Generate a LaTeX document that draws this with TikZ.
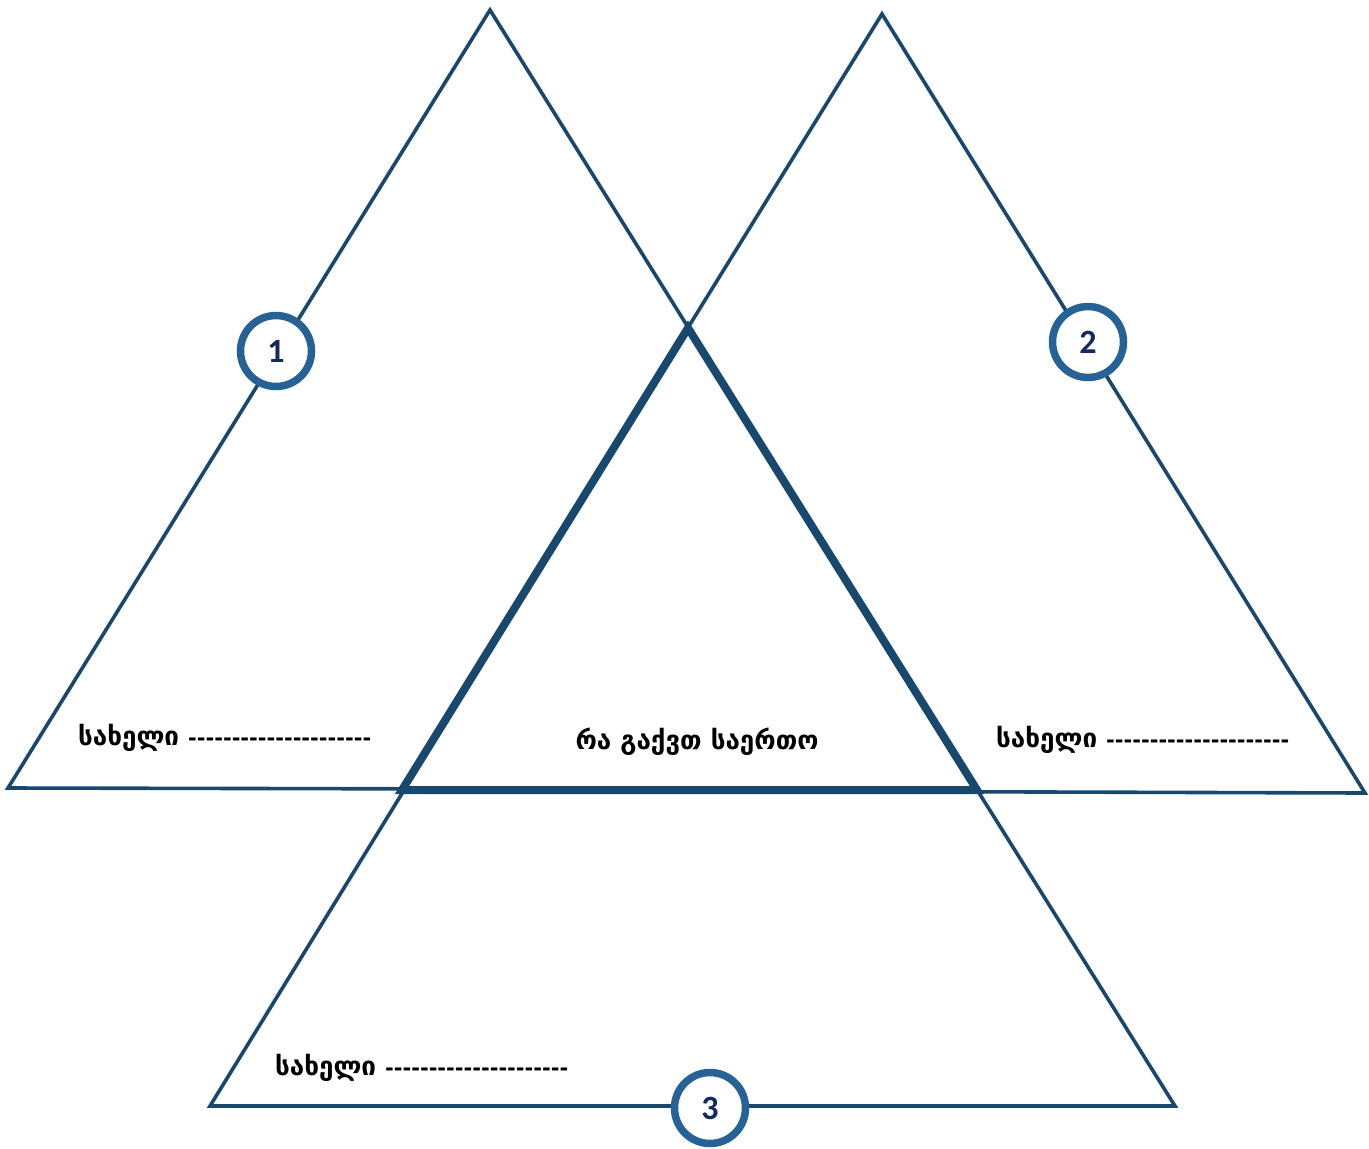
\documentclass[tikz,border=0pt]{standalone}
\usepackage{fontspec}
\newfontfamily\geofont[Script=Georgian]{DejaVu Sans}
\newfontfamily\numfont{Carlito}
\usetikzlibrary{positioning}

\definecolor{edgeblue}{RGB}{24,72,110}
\definecolor{ringblue}{RGB}{38,98,150}
\definecolor{numnavy}{RGB}{22,40,98}

\newcommand{\blankline}{{\fontsize{21}{21}\selectfont ---------------------}}

\tikzset{
  tri/.style={draw=edgeblue,line width=3.6pt,line join=miter},
  common/.style={draw=edgeblue,line width=8pt,line join=miter},
  badge/.style={circle,draw=ringblue,line width=7.5pt,fill=white,
    minimum size=71pt,inner sep=0pt,text=numnavy,
    font=\numfont\bfseries\fontsize{34}{34}\selectfont},
  namefield/.style={anchor=west,inner sep=0pt,
    font=\geofont\bfseries\fontsize{26}{26}\selectfont}
}

\begin{document}
\begin{tikzpicture}[x=1pt,y=-1pt]
\useasboundingbox (0,0) rectangle (1369,1149);

% corners of the three triangles
\coordinate (t1top) at (490,10);
\coordinate (t1l) at (8,788);
\coordinate (t1r) at (977,790);
\coordinate (t2top) at (882,14);
\coordinate (t2l) at (402,790);
\coordinate (t2r) at (1365,793);
\coordinate (t3top) at (688,328);
\coordinate (t3l) at (210,1106);
\coordinate (t3r) at (1175,1106);

% triangles
\draw[tri] (t1top) -- (t1l) -- (t1r) -- cycle;
\draw[tri] (t2top) -- (t2l) -- (t2r) -- cycle;
\draw[tri] (t3top) -- (t3l) -- (t3r) -- cycle;

% shared part
\draw[common] (t3top) -- (t2l) -- (t1r) -- cycle;

% numbered badges
\node[badge] (one) at (276,351) {1};
\node[badge] (two) at (1088,342) {2};
\node[badge] (three) at (710,1108) {3};

% labels
\node[namefield] (name1) at (78,738) {სახელი \blankline};
\node[namefield] (name2) at (996,740) {სახელი \blankline};
\node[namefield] (name3) at (275,1068) {სახელი \blankline};
\node[namefield,anchor=center] (shared) at (697,742) {რა გაქვთ საერთო};
\end{tikzpicture}
\end{document}
